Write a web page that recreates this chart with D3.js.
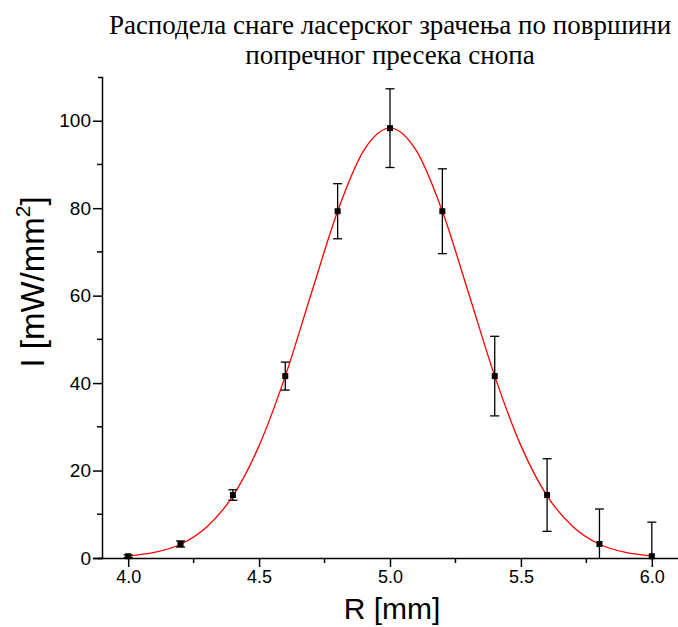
<!DOCTYPE html>
<html>
<head>
<meta charset="utf-8">
<script src="https://cdn.jsdelivr.net/npm/d3@7/dist/d3.min.js"></script>
<style>
  html, body { margin: 0; padding: 0; background: #fff; }
  svg { display: block; }
</style>
</head>
<body>
<svg id="chart" width="678" height="627"></svg>
<script>
// ---- data ----
const titleLines = ["Расподела снаге ласерског зрачења по површини", "попречног пресека снопа"];
const xLabel = "R [mm]";
const R = [4.0, 4.2, 4.4, 4.6, 4.8, 5.0, 5.2, 5.4, 5.6, 5.8, 6.0];
const I = [0.4, 3.2, 14.4, 41.6, 79.3, 98.3, 79.3, 41.6, 14.4, 3.2, 0.4];
const errI = [0.3, 0.7, 1.2, 3.2, 6.3, 9.0, 9.7, 9.1, 8.3, 8.0, 7.8];
// fitted curve
const fitR = [4.0, 4.1, 4.2, 4.3, 4.4, 4.5, 4.6, 4.7, 4.8, 4.9, 5.0, 5.1, 5.2, 5.3, 5.4, 5.5, 5.6, 5.7, 5.8, 5.9, 6.0];
const fitI = [0.46, 1.27, 3.15, 7.1, 14.2, 25.7, 41.6, 60.6, 79.3, 93.2, 98.3, 93.2, 79.3, 60.6, 41.6, 25.7, 14.2, 7.1, 3.15, 1.27, 0.46];
const xTicks = [4.0, 4.5, 5.0, 5.5, 6.0];
const xMinor = [4.25, 4.75, 5.25, 5.75];
const yTicks = [0, 20, 40, 60, 80, 100];
const yMinor = [10, 30, 50, 70, 90];

// ---- layout ----
const svg = d3.select("#chart");
const mLeft = 102, mRight = 678, mTop = 77, mBottom = 558;
const x = d3.scaleLinear().domain([3.9, 6.1]).range([mLeft, mRight]);
const y = d3.scaleLinear().domain([0, 110]).range([mBottom, mTop]);

// clip
svg.append("defs").append("clipPath").attr("id", "clip")
  .append("rect").attr("x", mLeft).attr("y", mTop).attr("width", mRight - mLeft).attr("height", mBottom - mTop);

// title
const title = svg.append("text")
  .attr("x", 390).attr("y", 34)
  .attr("text-anchor", "middle")
  .style("font-family", "'Liberation Serif', 'Times New Roman', serif")
  .style("font-size", "27px")
  .attr("fill", "#000");
titleLines.forEach((t, i) => {
  title.append("tspan").attr("x", 390).attr("dy", i === 0 ? 0 : 30).text(t);
});

// axes
const tickFont = "'Liberation Sans', Arial, sans-serif";
const xAxis = d3.axisBottom(x).tickValues(xTicks).tickFormat(d3.format(".1f")).tickSize(9).tickSizeOuter(0).tickPadding(3);
const gx = svg.append("g").attr("transform", `translate(0,${mBottom})`).call(xAxis);
gx.selectAll("text").style("font-family", tickFont).style("font-size", "18px").attr("fill", "#000");
gx.selectAll("line").attr("stroke", "#000").attr("stroke-width", 1.5);
gx.select(".domain").attr("stroke", "#000").attr("stroke-width", 1.5);
gx.select(".domain").attr("d", `M${mLeft - 9},0.5H${mRight}`);

gx.selectAll(".minor").data(xMinor).enter().append("line")
  .attr("class", "minor")
  .attr("x1", d => x(d)).attr("x2", d => x(d))
  .attr("y1", 0).attr("y2", 5)
  .attr("stroke", "#000").attr("stroke-width", 1.5);

const yAxis = d3.axisLeft(y).tickValues(yTicks).tickFormat(d3.format("d")).tickSize(9).tickSizeOuter(4).tickPadding(2);
const gy = svg.append("g").attr("transform", `translate(${mLeft},0)`).call(yAxis);
gy.selectAll("text").style("font-family", tickFont).style("font-size", "19px").attr("fill", "#000");
gy.selectAll("line").attr("stroke", "#000").attr("stroke-width", 1.5);
gy.select(".domain").attr("stroke", "#000").attr("stroke-width", 1.5);
gy.selectAll(".minor").data(yMinor).enter().append("line")
  .attr("class", "minor")
  .attr("x1", 0).attr("x2", -5)
  .attr("y1", d => y(d)).attr("y2", d => y(d))
  .attr("stroke", "#000").attr("stroke-width", 1.5);

// axis titles
svg.append("text")
  .attr("x", x(5.0) + 2).attr("y", 619)
  .attr("text-anchor", "middle")
  .style("font-family", tickFont).style("font-size", "30px")
  .attr("fill", "#000")
  .text(xLabel);

const yl = svg.append("text")
  .attr("transform", "translate(44,282) rotate(-90)")
  .attr("text-anchor", "middle")
  .style("font-family", tickFont).style("font-size", "33px")
  .attr("fill", "#000");
yl.append("tspan").text("I [mW/mm");
yl.append("tspan").attr("dy", -14).style("font-size", "21px").text("2");
yl.append("tspan").attr("dy", 14).text("]");

// plot
const plot = svg.append("g").attr("clip-path", "url(#clip)");

const line = d3.line().x((d, i) => x(fitR[i])).y(d => y(d)).curve(d3.curveMonotoneX);
plot.append("path").datum(fitI)
  .attr("d", line)
  .attr("fill", "none").attr("stroke", "#ff0000").attr("stroke-width", 1.3);

const pts = R.map((r, i) => ({ r, v: I[i], e: errI[i] }));
const eb = plot.append("g").attr("stroke", "#000").attr("stroke-width", 1.3);
pts.forEach(p => {
  const cx = x(p.r);
  eb.append("line").attr("x1", cx).attr("x2", cx).attr("y1", y(p.v + p.e)).attr("y2", y(p.v - p.e));
  eb.append("line").attr("x1", cx - 4.5).attr("x2", cx + 4.5).attr("y1", y(p.v + p.e)).attr("y2", y(p.v + p.e));
  eb.append("line").attr("x1", cx - 4.5).attr("x2", cx + 4.5).attr("y1", y(p.v - p.e)).attr("y2", y(p.v - p.e));
});

svg.append("g").selectAll("rect").data(pts).enter().append("rect")
  .attr("x", d => x(d.r) - 3).attr("y", d => y(d.v) - 3)
  .attr("width", 6).attr("height", 6)
  .attr("fill", "#000");
</script>
</body>
</html>
